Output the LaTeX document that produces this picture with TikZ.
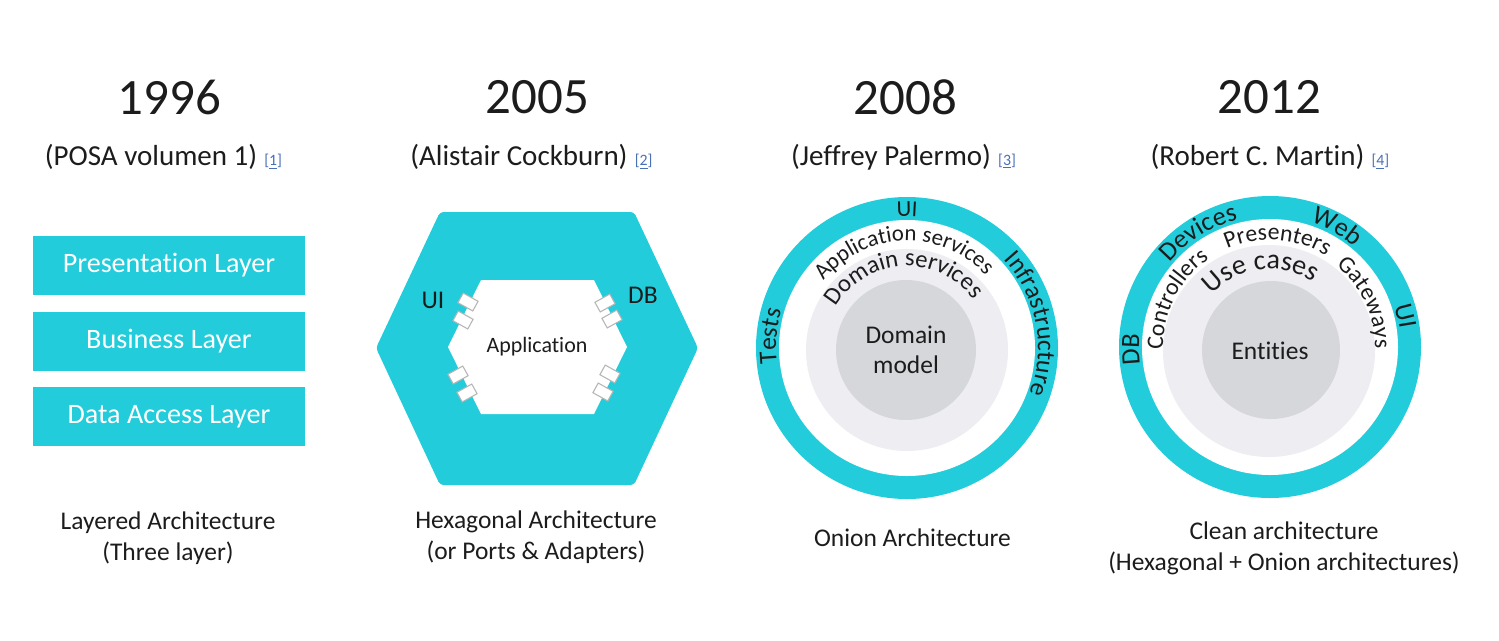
\documentclass[tikz,border=0pt]{standalone}
\usepackage{fontspec}
\setmainfont{Carlito}[Ligatures=NoCommon]
\usetikzlibrary{positioning, calc, decorations.text}
\definecolor{archteal}{HTML}{22CCDA}
\definecolor{ringlight}{HTML}{EDEDF2}
\definecolor{ringdark}{HTML}{D6D7DB}
\definecolor{refblue}{HTML}{4A6FB5}
\definecolor{portgrey}{HTML}{B5B5B5}
\definecolor{ink}{HTML}{1C1C1C}
\tikzset{
  year/.style={inner sep=0pt, text=ink, font=\fontsize{29}{34}\selectfont},
  author/.style={inner sep=0pt, text=ink, font=\fontsize{16.5}{20}\selectfont},
  refmark/.style={inner sep=0pt, text=refblue, font=\fontsize{9}{10}\selectfont},
  caption/.style={inner sep=0pt, align=center, text=ink, font=\fontsize{14.5}{17.6}\selectfont},
  layerbox/.style={fill=archteal, text=white, minimum width=5.44cm, minimum height=1.18cm, inner sep=0pt, font=\fontsize{16}{19}\selectfont},
  portbox/.style={draw=portgrey, line width=0.6pt, fill=white, minimum width=0.34cm, minimum height=0.22cm, inner sep=0pt},
  sidetag/.style={inner sep=0pt, text=ink, font=\fontsize{14.5}{17}\selectfont},
  coretext/.style={inner sep=0pt, align=center, text=ink, font=\fontsize{14.5}{17}\selectfont},
  ringtext/.style={decorate, decoration={text along path, text align=center, text color=ink, text={#1}}},
}

\begin{document}
\begin{tikzpicture}[x=0.02cm, y=0.02cm]
    \useasboundingbox (0,0) rectangle (1499,-640);

    % 1996 - layers
    \node[year] (y1996) at (169.5,-97) {1996};
    \node[author] (posa) at (151,-157) {(POSA volumen 1)};
    \node[refmark, base right=0.13cm of posa] (ref1) {[\underline{1}]};
    \node[layerbox] (pres) at (169,-265.5) {Presentation Layer};
    \node[layerbox, below=0.32cm of pres] (busi) {Business Layer};
    \node[layerbox, below=0.32cm of busi] (data) {Data Access Layer};
    \node[caption] (cap1) at (168,-538) {Layered Architecture\\(Three layer)};

    % 2005 - hexagon
    \node[year] (y2005) at (537.5,-97) {2005};
    \node[author] (cockburn) at (519,-157) {(Alistair Cockburn)};
    \node[refmark, base right=0.13cm of cockburn] (ref2) {[\underline{2}]};
    \fill[archteal, rounded corners=2pt] (440,-212) -- (634,-212) -- (698,-348) -- (634,-485) -- (440,-485) -- (376,-348) -- cycle;
    \fill[white] (481,-280) -- (594,-280) -- (627,-347) -- (594,-414) -- (481,-414) -- (448,-347) -- cycle;
    \foreach \x/\y/\a [count=\i] in {468/302/-29, 463/320/-29, 458/375/29, 467/393/29,
                                     605/303/29, 612/319/29, 610/374/-29, 603/392/-29}
        \node[portbox, rotate=\a] (port\i) at (\x,-\y) {};
    \node[sidetag] (hexui) at (433,-300) {UI};
    \node[sidetag] (hexdb) at (643,-295) {DB};
    \node[coretext, font=\fontsize{12.5}{15}\selectfont] (app) at (537,-347) {Application};
    \node[caption] (cap2) at (536,-537.5) {Hexagonal Architecture\\(or Ports \& Adapters)};

    % 2008 - onion
    \node[year] (y2008) at (905.5,-97) {2008};
    \node[author] (palermo) at (891,-157) {(Jeffrey Palermo)};
    \node[refmark, base right=0.13cm of palermo] (ref3) {[\underline{3}]};
    \coordinate (oc) at (907,-348);
    \fill[archteal] (oc) circle (151);
    \fill[white] (oc) circle (128);
    \fill[ringlight] (907,-350) circle (101);
    \fill[ringdark] (906,-350) circle (70);
    \path[ringtext={|\fontsize{13}{15}\selectfont|UI}] ($(oc)+(150:132)$) arc[start angle=150, end angle=30, radius=132];
    \path[ringtext={|\fontsize{14.5}{17}\selectfont|Tests}] ($(oc)+(235:131)$) arc[start angle=235, end angle=115, radius=131];
    \path[ringtext={|\fontsize{14.5}{17}\selectfont|Infrastructure}] ($(oc)+(71:131)$) arc[start angle=71, end angle=-49, radius=131];
    \path[ringtext={|\fontsize{13}{15}\selectfont|Application services}] ($(oc)+(162:107)$) arc[start angle=162, end angle=22, radius=107];
    \path[ringtext={|\fontsize{14}{16}\selectfont|Domain services}] ($(oc)+(163:82)$) arc[start angle=163, end angle=23, radius=82];
    \node[coretext] (dmodel) at (906,-350) {Domain\\model};
    \node[caption] (cap3) at (912.5,-538) {Onion Architecture};

    % 2012 - clean
    \node[year] (y2012) at (1269.5,-97) {2012};
    \node[author] (martin) at (1257.5,-157) {(Robert C. Martin)};
    \node[refmark, base right=0.13cm of martin] (ref4) {[\underline{4}]};
    \coordinate (cc) at (1270,-347);
    \fill[archteal] (cc) circle (151);
    \fill[white] (cc) circle (128);
    \fill[ringlight] (1269,-351) circle (106);
    \fill[ringdark] (1271,-350) circle (69);
    \path[ringtext={|\fontsize{15}{18}\selectfont|Devices}] ($(cc)+(182:131)$) arc[start angle=182, end angle=62, radius=131];
    \path[ringtext={|\fontsize{15}{18}\selectfont|Web}] ($(cc)+(121:131)$) arc[start angle=121, end angle=1, radius=131];
    \path[ringtext={|\fontsize{15}{18}\selectfont|UI}] ($(cc)+(73:131)$) arc[start angle=73, end angle=-47, radius=131];
    \path[ringtext={|\fontsize{15}{18}\selectfont|DB}] ($(cc)+(241:131)$) arc[start angle=241, end angle=121, radius=131];
    \path[ringtext={|\fontsize{13.5}{16}\selectfont|Presenters}] ($(cc)+(146:107)$) arc[start angle=146, end angle=26, radius=107];
    \path[ringtext={|\fontsize{13.5}{16}\selectfont|Controllers}] ($(cc)+(213:107)$) arc[start angle=213, end angle=93, radius=107];
    \path[ringtext={|\fontsize{13.5}{16}\selectfont|Gateways}] ($(cc)+(85:105)$) arc[start angle=85, end angle=-35, radius=105];
    \path[ringtext={|\fontsize{16}{19}\selectfont|Use cases}] ($(cc)+(157:78)$) arc[start angle=157, end angle=37, radius=78];
    \node[coretext] (entities) at (1270,-351) {Entities};
    \node[caption] (cap4) at (1284,-548) {Clean architecture\\(Hexagonal + Onion architectures)};
\end{tikzpicture}
\end{document}
